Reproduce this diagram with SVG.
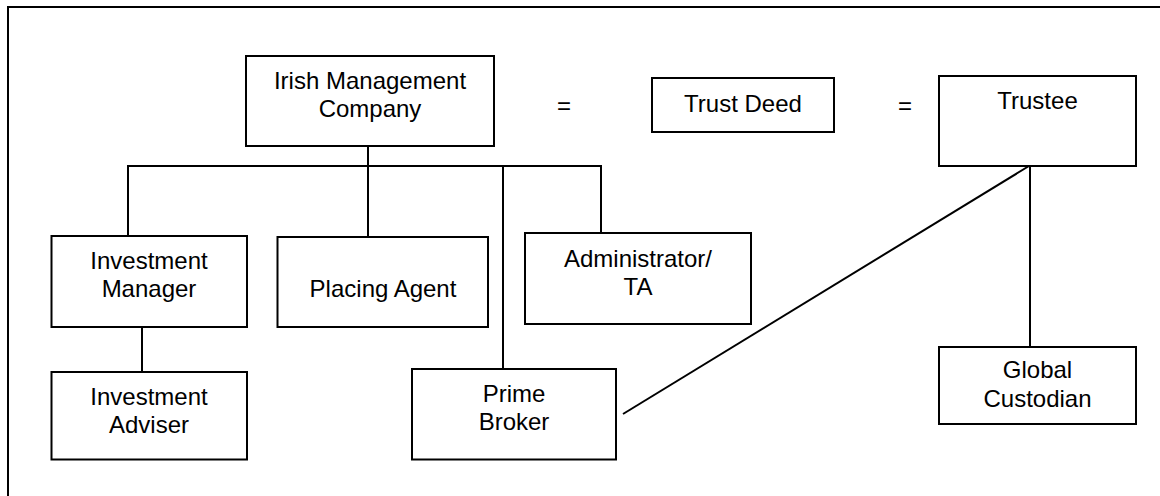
<svg xmlns="http://www.w3.org/2000/svg" width="1160" height="496" viewBox="0 0 1160 496">
<style>
.box{fill:#fff;stroke:#000;stroke-width:2}
.frame{fill:none;stroke:#000;stroke-width:2}
.conn{fill:none;stroke:#000;stroke-width:2}
text{font-family:"Liberation Sans",Arial,sans-serif;font-size:24px;fill:#000;text-anchor:middle}
</style>
<rect width="1160" height="496" fill="#fff"/>
<path class="frame" d="M8,496 V7 H1160"/>
<g id="connectors">
<path class="conn" d="M368,146 V166"/>
<path class="conn" d="M128,236 V166 H601 V233"/>
<path class="conn" d="M368,166 V237"/>
<path class="conn" d="M503,166 V369"/>
<path class="conn" d="M142,327 V372"/>
<path class="conn" d="M1029,166 L623,414"/>
<path class="conn" d="M1030,166 V347"/>
</g>
<g id="irish-management-company">
<rect class="box" x="246" y="56" width="248" height="90"/>
<text x="370" y="89">Irish Management</text>
<text x="370" y="117">Company</text>
</g>
<g id="eq1"><text x="564" y="114">=</text></g>
<g id="trust-deed">
<rect class="box" x="652" y="78" width="182" height="54"/>
<text x="743" y="112">Trust Deed</text>
</g>
<g id="eq2"><text x="905" y="114">=</text></g>
<g id="trustee">
<rect class="box" x="939" y="76" width="197" height="90"/>
<text x="1037.5" y="109">Trustee</text>
</g>
<g id="investment-manager">
<rect class="box" x="51.5" y="236" width="195.5" height="91"/>
<text x="149" y="269">Investment</text>
<text x="149" y="297">Manager</text>
</g>
<g id="placing-agent">
<rect class="box" x="277.5" y="237" width="210.5" height="90"/>
<text x="383" y="297">Placing Agent</text>
</g>
<g id="administrator">
<rect class="box" x="525" y="233" width="226" height="91"/>
<text x="638" y="267">Administrator/</text>
<text x="638" y="295">TA</text>
</g>
<g id="investment-adviser">
<rect class="box" x="51.5" y="372" width="195.5" height="87.5"/>
<text x="149" y="405">Investment</text>
<text x="149" y="433">Adviser</text>
</g>
<g id="prime-broker">
<rect class="box" x="412" y="369" width="204" height="90.5"/>
<text x="514" y="402">Prime</text>
<text x="514" y="430">Broker</text>
</g>
<g id="global-custodian">
<rect class="box" x="939" y="347" width="197" height="77"/>
<text x="1037.5" y="378">Global</text>
<text x="1037.5" y="407">Custodian</text>
</g>
</svg>
